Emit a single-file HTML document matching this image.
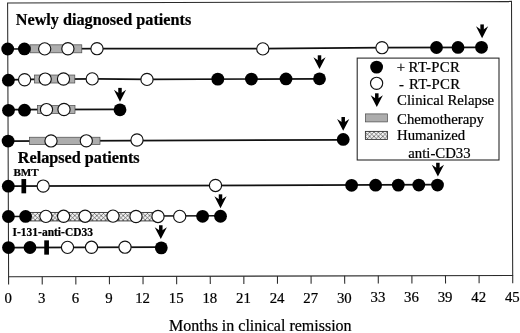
<!DOCTYPE html>
<html><head><meta charset="utf-8"><title>Figure</title>
<style>
html,body{margin:0;padding:0;background:#fff;}
text{stroke:#000;stroke-width:0.22px;}
svg{display:block;filter:blur(0.3px);font-family:"Liberation Serif","DejaVu Serif",serif;}
</style></head><body>
<svg width="520" height="333" viewBox="0 0 520 333">
<defs>
<pattern id="hx" width="4.4" height="4.4" patternUnits="userSpaceOnUse">
<rect width="4.4" height="4.4" fill="#f3f3f3"/>
<path d="M0,0 L4.4,4.4 M4.4,0 L0,4.4" stroke="#333" stroke-width="0.6"/>
</pattern>
</defs>
<rect width="520" height="333" fill="#fff"/>
<polygon points="7.6,3.1 511.5,1.4 512.7,275.4 8.6,276.8" fill="none" stroke="#2a2a2a" stroke-width="1.05"/>
<line x1="8.6" y1="276.8" x2="8.63" y2="284.6" stroke="#2a2a2a" stroke-width="1.05"/>
<text x="8.2" y="303" text-anchor="middle" font-size="14.8">0</text>
<line x1="42.21" y1="276.71" x2="42.24" y2="284.51" stroke="#2a2a2a" stroke-width="1.05"/>
<text x="41.8" y="303" text-anchor="middle" font-size="14.8">3</text>
<line x1="75.81" y1="276.61" x2="75.84" y2="284.41" stroke="#2a2a2a" stroke-width="1.05"/>
<text x="75.4" y="303" text-anchor="middle" font-size="14.8">6</text>
<line x1="109.42" y1="276.52" x2="109.45" y2="284.32" stroke="#2a2a2a" stroke-width="1.05"/>
<text x="109.0" y="303" text-anchor="middle" font-size="14.8">9</text>
<line x1="143.03" y1="276.43" x2="143.06" y2="284.23" stroke="#2a2a2a" stroke-width="1.05"/>
<text x="142.6" y="303" text-anchor="middle" font-size="14.8">12</text>
<line x1="176.63" y1="276.33" x2="176.66" y2="284.13" stroke="#2a2a2a" stroke-width="1.05"/>
<text x="176.2" y="303" text-anchor="middle" font-size="14.8">15</text>
<line x1="210.24" y1="276.24" x2="210.27" y2="284.04" stroke="#2a2a2a" stroke-width="1.05"/>
<text x="209.8" y="303" text-anchor="middle" font-size="14.8">18</text>
<line x1="243.85" y1="276.15" x2="243.88" y2="283.95" stroke="#2a2a2a" stroke-width="1.05"/>
<text x="243.4" y="303" text-anchor="middle" font-size="14.8">21</text>
<line x1="277.45" y1="276.05" x2="277.48" y2="283.85" stroke="#2a2a2a" stroke-width="1.05"/>
<text x="277.1" y="303" text-anchor="middle" font-size="14.8">24</text>
<line x1="311.06" y1="275.96" x2="311.09" y2="283.76" stroke="#2a2a2a" stroke-width="1.05"/>
<text x="310.7" y="303" text-anchor="middle" font-size="14.8">27</text>
<line x1="344.67" y1="275.87" x2="344.7" y2="283.67" stroke="#2a2a2a" stroke-width="1.05"/>
<text x="344.3" y="303" text-anchor="middle" font-size="14.8">30</text>
<line x1="378.27" y1="275.77" x2="378.3" y2="283.57" stroke="#2a2a2a" stroke-width="1.05"/>
<text x="377.9" y="302" text-anchor="middle" font-size="14.8">33</text>
<line x1="411.88" y1="275.68" x2="411.91" y2="283.48" stroke="#2a2a2a" stroke-width="1.05"/>
<text x="411.5" y="302" text-anchor="middle" font-size="14.8">36</text>
<line x1="445.49" y1="275.59" x2="445.52" y2="283.39" stroke="#2a2a2a" stroke-width="1.05"/>
<text x="445.1" y="302" text-anchor="middle" font-size="14.8">39</text>
<line x1="479.09" y1="275.49" x2="479.12" y2="283.29" stroke="#2a2a2a" stroke-width="1.05"/>
<text x="478.7" y="302" text-anchor="middle" font-size="14.8">42</text>
<line x1="512.7" y1="275.4" x2="512.73" y2="283.2" stroke="#2a2a2a" stroke-width="1.05"/>
<text x="512.3" y="302" text-anchor="middle" font-size="14.8">45</text>
<text x="260.3" y="331.3" text-anchor="middle" font-size="16">Months in clinical remission</text>
<text x="15.8" y="25.1" font-size="16.2" font-weight="bold">Newly diagnosed patients</text>
<text x="17.8" y="162.8" font-size="16.2" font-weight="bold">Relapsed patients</text>
<text x="13.4" y="175.7" font-size="11.1" font-weight="bold">BMT</text>
<text x="12.5" y="236" font-size="11.5" font-weight="bold">I-131-anti-CD33</text>
<polyline points="8,48.98 100,48.66 262,48.59 382,47.67 481.5,47.32" fill="none" stroke="#111" stroke-width="1.7"/>
<rect x="30" y="44.81" width="51.8" height="8.0" fill="#adadad" stroke="#4a4a4a" stroke-width="0.7"/>
<circle cx="7.7" cy="48.98" r="6.4" fill="#000"/>
<circle cx="24.4" cy="48.92" r="6.4" fill="#000"/>
<circle cx="436.5" cy="47.48" r="6.4" fill="#000"/>
<circle cx="458" cy="47.41" r="6.4" fill="#000"/>
<circle cx="481.5" cy="47.32" r="6.4" fill="#000"/>
<circle cx="44.7" cy="48.85" r="6.1" fill="#fff" stroke="#111" stroke-width="1.15"/>
<circle cx="67.9" cy="48.77" r="6.1" fill="#fff" stroke="#111" stroke-width="1.15"/>
<circle cx="97" cy="48.67" r="6.1" fill="#fff" stroke="#111" stroke-width="1.15"/>
<circle cx="262.8" cy="48.89" r="6.1" fill="#fff" stroke="#111" stroke-width="1.15"/>
<circle cx="382" cy="47.67" r="6.1" fill="#fff" stroke="#111" stroke-width="1.15"/>
<path d="M476.00,26.32 L482.1,38.22 L488.20,26.32 L482.1,30.42 Z" fill="#000"/><rect x="480.35" y="24.42" width="3.5" height="8" fill="#000"/>
<polyline points="8,79.88 30,79.31 95,78.88 147,79.4 319.5,78.79" fill="none" stroke="#111" stroke-width="1.7"/>
<rect x="34.5" y="75.02" width="40.3" height="8.0" fill="#adadad" stroke="#4a4a4a" stroke-width="0.7"/>
<circle cx="8.4" cy="80.18" r="6.4" fill="#000"/>
<circle cx="217.8" cy="79.15" r="6.4" fill="#000"/>
<circle cx="251.4" cy="79.03" r="6.4" fill="#000"/>
<circle cx="286" cy="78.91" r="6.4" fill="#000"/>
<circle cx="319.5" cy="78.79" r="6.4" fill="#000"/>
<circle cx="24.6" cy="79.72" r="6.1" fill="#fff" stroke="#111" stroke-width="1.15"/>
<circle cx="45.2" cy="79.05" r="6.1" fill="#fff" stroke="#111" stroke-width="1.15"/>
<circle cx="63.5" cy="78.99" r="6.1" fill="#fff" stroke="#111" stroke-width="1.15"/>
<circle cx="92.2" cy="78.89" r="6.1" fill="#fff" stroke="#111" stroke-width="1.15"/>
<circle cx="147" cy="79.4" r="6.1" fill="#fff" stroke="#111" stroke-width="1.15"/>
<path d="M313.40,57.19 L319.5,69.09 L325.60,57.19 L319.5,61.29 Z" fill="#000"/><rect x="317.75" y="55.29" width="3.5" height="8" fill="#000"/>
<line x1="8" y1="109.68" x2="120" y2="109.29" stroke="#111" stroke-width="1.7"/>
<rect x="37.5" y="105.51" width="37.5" height="8.0" fill="#adadad" stroke="#4a4a4a" stroke-width="0.7"/>
<circle cx="8.5" cy="110.28" r="6.4" fill="#000"/>
<circle cx="24.5" cy="110.22" r="6.4" fill="#000"/>
<circle cx="120" cy="109.79" r="6.4" fill="#000"/>
<circle cx="46.5" cy="109.55" r="6.1" fill="#fff" stroke="#111" stroke-width="1.15"/>
<circle cx="64" cy="109.49" r="6.1" fill="#fff" stroke="#111" stroke-width="1.15"/>
<path d="M113.90,89.79 L120,101.69 L126.10,89.79 L120,93.89 Z" fill="#000"/><rect x="118.25" y="87.89" width="3.5" height="8" fill="#000"/>
<line x1="8" y1="141.08" x2="343.2" y2="139.91" stroke="#111" stroke-width="1.7"/>
<rect x="29.5" y="137.23" width="70.5" height="7.3" fill="#adadad" stroke="#4a4a4a" stroke-width="0.7"/>
<circle cx="8.1" cy="141.08" r="6.4" fill="#000"/>
<circle cx="343.2" cy="139.41" r="6.4" fill="#000"/>
<circle cx="51" cy="140.93" r="6.1" fill="#fff" stroke="#111" stroke-width="1.15"/>
<circle cx="86.3" cy="140.81" r="6.1" fill="#fff" stroke="#111" stroke-width="1.15"/>
<circle cx="137" cy="140.03" r="6.1" fill="#fff" stroke="#111" stroke-width="1.15"/>
<path d="M337.10,118.91 L343.2,130.81 L349.30,118.91 L343.2,123.01 Z" fill="#000"/><rect x="341.45" y="117.01" width="3.5" height="8" fill="#000"/>
<line x1="8" y1="186.18" x2="437.5" y2="184.68" stroke="#111" stroke-width="1.7"/>
<rect x="21.45" y="179.03" width="4.7" height="14.3" fill="#000"/>
<circle cx="8.3" cy="186.18" r="6.4" fill="#000"/>
<circle cx="351.6" cy="185.28" r="6.4" fill="#000"/>
<circle cx="375.6" cy="185.2" r="6.4" fill="#000"/>
<circle cx="398.3" cy="185.12" r="6.4" fill="#000"/>
<circle cx="418.8" cy="185.04" r="6.4" fill="#000"/>
<circle cx="437.5" cy="185.08" r="6.4" fill="#000"/>
<circle cx="43.2" cy="186.06" r="6.1" fill="#fff" stroke="#111" stroke-width="1.15"/>
<circle cx="215.5" cy="185.46" r="6.1" fill="#fff" stroke="#111" stroke-width="1.15"/>
<path d="M431.80,164.68 L437.9,176.58 L444.00,164.68 L437.9,168.78 Z" fill="#000"/><rect x="436.15" y="162.78" width="3.5" height="8" fill="#000"/>
<line x1="8" y1="216.48" x2="220.5" y2="215.74" stroke="#111" stroke-width="1.7"/>
<rect x="30.5" y="212.43" width="125.5" height="8.5" fill="url(#hx)" stroke="#333" stroke-width="0.9"/>
<circle cx="8.4" cy="216.48" r="6.4" fill="#000"/>
<circle cx="25.6" cy="216.42" r="6.4" fill="#000"/>
<circle cx="202.6" cy="216.3" r="6.4" fill="#000"/>
<circle cx="220.5" cy="216.24" r="6.4" fill="#000"/>
<circle cx="45.9" cy="216.35" r="6.1" fill="#fff" stroke="#111" stroke-width="1.15"/>
<circle cx="63.6" cy="216.29" r="6.1" fill="#fff" stroke="#111" stroke-width="1.15"/>
<circle cx="85.1" cy="216.21" r="6.1" fill="#fff" stroke="#111" stroke-width="1.15"/>
<circle cx="113" cy="216.11" r="6.1" fill="#fff" stroke="#111" stroke-width="1.15"/>
<circle cx="136" cy="216.53" r="6.1" fill="#fff" stroke="#111" stroke-width="1.15"/>
<circle cx="158" cy="216.46" r="6.1" fill="#fff" stroke="#111" stroke-width="1.15"/>
<circle cx="179.7" cy="216.38" r="6.1" fill="#fff" stroke="#111" stroke-width="1.15"/>
<path d="M214.40,196.24 L220.5,208.14 L226.60,196.24 L220.5,200.34 Z" fill="#000"/><rect x="218.75" y="194.34" width="3.5" height="8" fill="#000"/>
<line x1="8" y1="247.58" x2="161" y2="247.05" stroke="#111" stroke-width="1.7"/>
<rect x="44.25" y="240.35" width="4.7" height="14.3" fill="#000"/>
<circle cx="8.5" cy="247.58" r="6.4" fill="#000"/>
<circle cx="30.0" cy="247.5" r="6.4" fill="#000"/>
<circle cx="161.3" cy="247.85" r="6.4" fill="#000"/>
<circle cx="67.5" cy="247.37" r="6.1" fill="#fff" stroke="#111" stroke-width="1.15"/>
<circle cx="91.5" cy="247.29" r="6.1" fill="#fff" stroke="#111" stroke-width="1.15"/>
<circle cx="125" cy="247.17" r="6.1" fill="#fff" stroke="#111" stroke-width="1.15"/>
<path d="M154.70,227.15 L160.8,239.05 L166.90,227.15 L160.8,231.25 Z" fill="#000"/><rect x="159.05" y="225.25" width="3.5" height="8" fill="#000"/>
<rect x="357.2" y="58.1" width="141.8" height="101.9" fill="#fff" stroke="#222" stroke-width="1.05"/>
<circle cx="376.6" cy="67.1" r="6.4" fill="#000"/>
<circle cx="376.6" cy="83.3" r="6.1" fill="#fff" stroke="#111" stroke-width="1.15"/>
<path d="M370.70,95.20 L376.8,107.10 L382.90,95.20 L376.8,99.30 Z" fill="#000"/><rect x="375.05" y="93.30" width="3.5" height="8" fill="#000"/>
<rect x="365.4" y="113.9" width="22" height="8.0" fill="#adadad" stroke="#4a4a4a" stroke-width="0.7"/>
<rect x="365.4" y="131.4" width="22" height="8.0" fill="url(#hx)" stroke="#333" stroke-width="0.9"/>
<text x="396.8" y="72.0" font-size="14.75">+</text>
<text x="408.6" y="72.0" font-size="14.75" textLength="51.2" lengthAdjust="spacing">RT-PCR</text>
<text x="399.0" y="88.5" font-size="14.75">-</text>
<text x="408.9" y="88.5" font-size="14.75" textLength="51.2" lengthAdjust="spacing">RT-PCR</text>
<text x="397.1" y="105.4" font-size="14.75">Clinical Relapse</text>
<text x="397.1" y="123.5" font-size="14.75">Chemotherapy</text>
<text x="397.1" y="140.3" font-size="14.75">Humanized</text>
<text x="408.3" y="157.7" font-size="14.75">anti-CD33</text>
</svg>
</body></html>
